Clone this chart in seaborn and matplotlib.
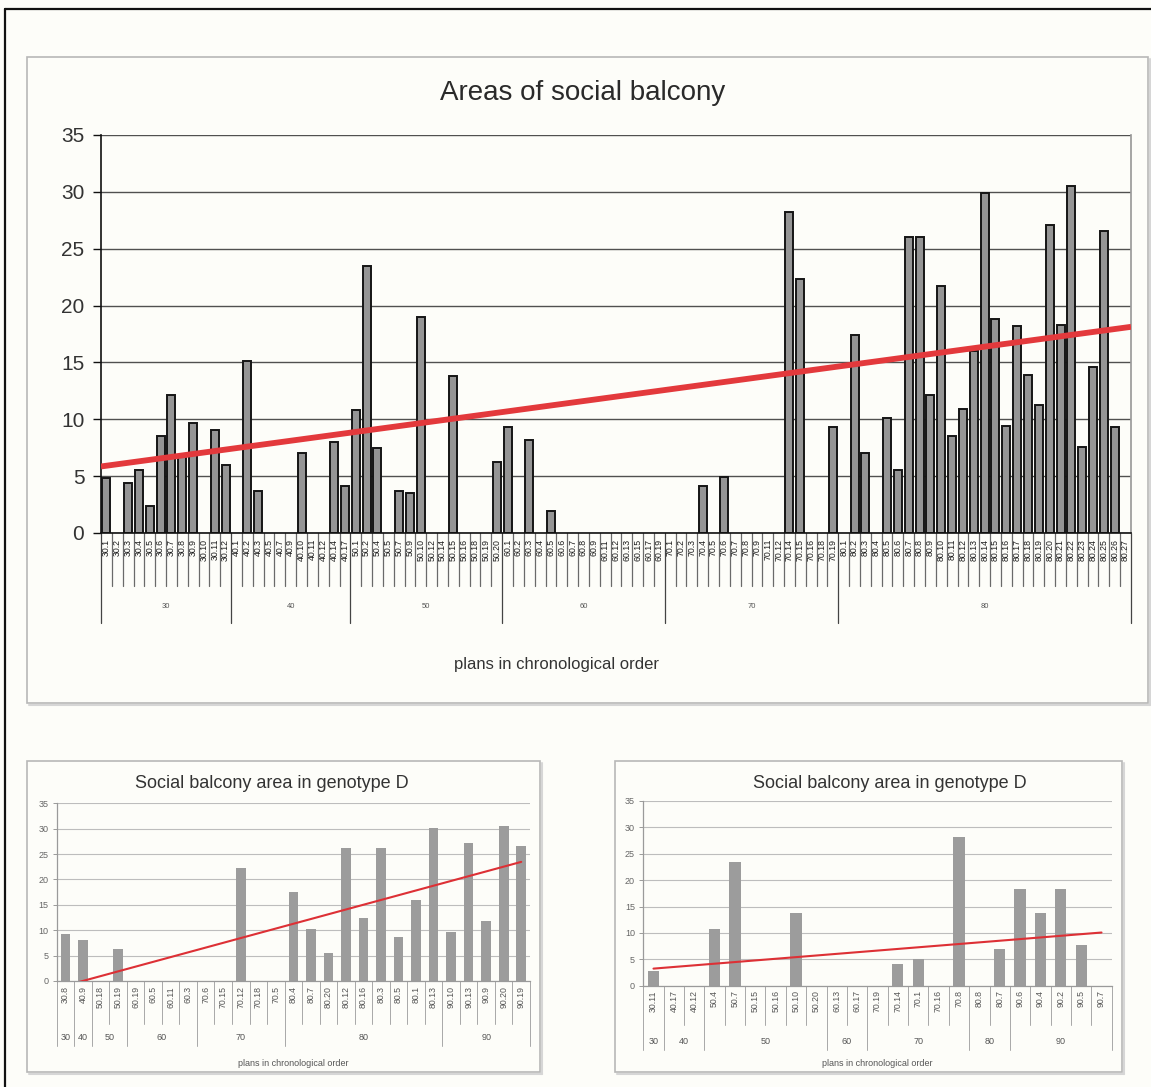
import numpy as np
import pandas as pd
import matplotlib
matplotlib.use("Agg")
import matplotlib.pyplot as plt
import matplotlib.transforms as mtransforms
from matplotlib.patches import Rectangle
from matplotlib.lines import Line2D
import seaborn as sns

W, H, DPI = 1151, 1087, 100
nan = np.nan

# ---------------- all plans (blank cells = no balcony recorded) ----------------
top_g30 = ["30.1", "30.2", "30.3", "30.4", "30.5", "30.6", "30.7", "30.8", "30.9", "30.10", "30.11", "30.12"]
top_g40 = ["40.1", "40.2", "40.3", "40.5", "40.7", "40.9", "40.10", "40.11", "40.12", "40.14", "40.17"]
top_g50 = ["50.1", "50.2", "50.4", "50.5", "50.7", "50.9", "50.10", "50.12", "50.14", "50.15", "50.16",
           "50.18", "50.19", "50.20"]
top_g60 = ["60.1", "60.2", "60.3", "60.4", "60.5", "60.6", "60.7", "60.8", "60.9", "60.11", "60.12",
           "60.13", "60.15", "60.17", "60.19"]
top_g70 = ["70.1", "70.2", "70.3", "70.4", "70.5", "70.6", "70.7", "70.8", "70.9", "70.11", "70.12",
           "70.14", "70.15", "70.16", "70.18", "70.19"]
top_g80 = ["80.1", "80.2", "80.3", "80.4", "80.5", "80.6", "80.7", "80.8", "80.9", "80.10", "80.11",
           "80.12", "80.13", "80.14", "80.15", "80.16", "80.17", "80.18", "80.19", "80.20", "80.21",
           "80.22", "80.23", "80.24", "80.25", "80.26", "80.27"]
top_groups = ["30", "40", "50", "60", "70", "80"]
top_area = [
    4.8, nan, 4.4, 5.5, 2.4, 8.5, 12.1, 6.9, 9.7, nan, 9.1, 6.0,
    nan, 15.1, 3.7, nan, nan, nan, 7.0, nan, nan, 8.0, 4.1,
    10.8, 23.5, 7.5, nan, 3.7, 3.5, 19.0, nan, nan, 13.8, nan, nan, nan, 6.2,
    9.3, nan, 8.2, nan, 1.9, nan, nan, nan, nan, nan, nan, nan, nan, nan, nan,
    nan, nan, nan, 4.1, nan, 4.9, nan, nan, nan, nan, nan, 28.2, 22.3, nan, nan, 9.3,
    nan, 17.4, 7.0, nan, 10.1, 5.5, 26.0, 26.0, 12.1, 21.7, 8.5, 10.9, 16.0, 29.9,
    18.8, 9.4, 18.2, 13.9, 11.3, 27.1, 18.3, 30.5, 7.6, 14.6, 26.6, 9.3, nan,
]

# ---------------- genotype D, first selection ----------------
left_plans = ["30.8", "40.9", "50.18", "50.19", "60.19", "60.5", "60.11", "60.3", "70.6", "70.15",
              "70.12", "70.18", "70.5", "80.4", "80.7", "80.20", "80.12", "80.16", "80.3", "80.5",
              "80.1", "80.13", "90.10", "90.13", "90.9", "90.20", "90.19"]
left_area = [9.2, 8.1, 0, 6.4, 0, 0, 0, 0, 0, 0, 22.3, 0, 0, 17.5, 10.2, 5.6, 26.1, 12.4, 26.1,
             8.7, 16.0, 30.1, 9.6, 27.1, 11.8, 30.6, 26.5]
left_groups = ["30", "40", "50", "60", "70", "80", "90"]
left_group_sizes = [1, 1, 2, 4, 5, 9, 5]

# ---------------- genotype D, second selection ----------------
right_plans = ["30.11", "40.17", "40.12", "50.4", "50.7", "50.15", "50.16", "50.10", "50.20", "60.13",
               "60.17", "70.19", "70.14", "70.1", "70.16", "70.8", "80.8", "80.7", "90.6", "90.4",
               "90.2", "90.5", "90.7"]
right_area = [2.7, 0, 0, 10.7, 23.4, 0, 0, 13.8, 0, 0, 0, 0, 4.2, 5.1, 0, 28.2, 0, 6.9, 18.3,
              13.7, 18.4, 7.7, 0]
right_groups = ["30", "40", "50", "60", "70", "80", "90"]
right_group_sizes = [1, 2, 6, 2, 5, 2, 5]

# ---------------- styling ----------------
sns.set_theme(style="white")
plt.rcParams["font.family"] = ["Liberation Sans", "DejaVu Sans"]
BG = "#fdfdf9"

fig = plt.figure(figsize=(W / DPI, H / DPI), dpi=DPI, facecolor=BG)


def fy(py):
    return 1 - py / H


def add_axes_px(left, top, right, bottom):
    ax = fig.add_axes([left / W, fy(bottom), (right - left) / W, (bottom - top) / H])
    ax.set_facecolor("none")
    return ax


def frame_px(left, top, right, bottom, color="#b8b8b8", lw=1.2):
    fig.patches.append(Rectangle((left / W, fy(bottom)), (right - left) / W, (bottom - top) / H,
                                 transform=fig.transFigure, fill=False, edgecolor=color, lw=lw))
    # soft drop shadow on the lower and right sides
    fig.add_artist(Line2D([(left + 2) / W, (right + 2) / W], [fy(bottom + 2)] * 2,
                          transform=fig.transFigure, color="#d6d6d6", lw=1.5))
    fig.add_artist(Line2D([(right + 2) / W] * 2, [fy(top + 2), fy(bottom + 2)],
                          transform=fig.transFigure, color="#d6d6d6", lw=1.5))


def category_table(ax, labels, groups, sizes, axis_px, label_top_px, tick_px, group_px,
                   group_label_px, fs_label, fs_group, line_color, group_color, lw,
                   label_color, group_label_color):
    trans = mtransforms.blended_transform_factory(ax.transData, fig.transFigure)
    n = len(labels)
    for i, lab in enumerate(labels):
        ax.text(i, fy(label_top_px), lab, rotation=90, ha="center", va="top",
                fontsize=fs_label, color=label_color, transform=trans, clip_on=False)
    edges = set(np.cumsum([0] + list(sizes)).tolist())
    for k in range(n + 1):
        is_group = k in edges
        ax.add_line(Line2D([k - 0.5, k - 0.5], [fy(axis_px), fy(group_px if is_group else tick_px)],
                           transform=trans, color=group_color if is_group else line_color,
                           lw=lw, clip_on=False))
    starts = np.cumsum([0] + list(sizes))[:-1]
    for g, s, st in zip(groups, sizes, starts):
        ax.text(st + s / 2 - 0.5, fy(group_label_px), g, ha="center", va="center",
                fontsize=fs_group, color=group_label_color, transform=trans, clip_on=False)


def bar_panel(ax, plans, area, bar_kw):
    df = pd.DataFrame({"plan": plans, "area": area})
    sns.barplot(data=df, x="plan", y="area", order=plans, errorbar=None, saturation=1,
                ax=ax, **bar_kw)
    ax.set_xlim(-0.5, len(plans) - 0.5)
    ax.set_ylim(0, 35)
    ax.set_yticks(np.arange(0, 36, 5))
    ax.set_xticks([])
    ax.set_xlabel("")
    ax.set_ylabel("")
    return df


# outer border of the page (top and left edges)
fig.add_artist(Line2D([5 / W, 1.0], [fy(9)] * 2, transform=fig.transFigure, color="#111111", lw=1.6))
fig.add_artist(Line2D([5 / W] * 2, [fy(9), 0.0], transform=fig.transFigure, color="#111111", lw=1.6))

# ================= main chart =================
frame_px(27, 57, 1148, 703)
top_plans = top_g30 + top_g40 + top_g50 + top_g60 + top_g70 + top_g80
top_sizes = [len(top_g30), len(top_g40), len(top_g50), len(top_g60), len(top_g70), len(top_g80)]
ax = add_axes_px(101, 135, 1131, 533)
bar_panel(ax, top_plans, top_area,
          dict(color="#959595", edgecolor="#151515", linewidth=1.4, width=0.74))
ax.yaxis.grid(True, color="#505050", lw=1.0)
ax.set_axisbelow(True)
ax.spines["top"].set_visible(False)
ax.spines["left"].set_color("#111111")
ax.spines["left"].set_linewidth(1.2)
ax.spines["bottom"].set_color("#111111")
ax.spines["bottom"].set_linewidth(1.2)
ax.spines["right"].set_color("#9a9a9a")
ax.tick_params(axis="y", which="major", direction="out", length=6, width=1.0, color="#111111",
               labelsize=15, labelcolor="#333333", pad=6, left=True)

# linear trend over the recorded (non-blank) plans
x = np.arange(len(top_area))
y = np.array(top_area, dtype=float)
m = ~np.isnan(y)
k1, k0 = np.polyfit(x[m], y[m], 1)
xs = np.array([-0.5, len(top_area) - 0.5])
ax.plot(xs, k0 + k1 * xs, color="#e3393c", lw=4.2, solid_capstyle="butt", zorder=5)

category_table(ax, top_plans, top_groups, top_sizes, axis_px=533, label_top_px=539, tick_px=586,
               group_px=623, group_label_px=606, fs_label=6.3, fs_group=5.5,
               line_color="#6a6a6a", group_color="#444444", lw=0.9,
               label_color="#1a1a1a", group_label_color="#555555")
fig.text(583 / W, fy(93), "Areas of social balcony", ha="center", va="center",
         fontsize=20, color="#2a2a2a")
fig.text(557 / W, fy(664), "plans in chronological order", ha="center", va="center",
         fontsize=12, color="#333333")


# ================= genotype D panels =================
def small_panel(box, plot_box, plans, area, groups, sizes, title_xy, geom):
    frame_px(*box)
    axs = add_axes_px(*plot_box)
    bar_panel(axs, plans, area, dict(color="#9c9c9c", edgecolor="none", linewidth=0, width=0.55))
    axs.yaxis.grid(True, color="#bdbdbd", lw=0.8)
    axs.set_axisbelow(True)
    for s in ("top", "right"):
        axs.spines[s].set_visible(False)
    for s in ("left", "bottom"):
        axs.spines[s].set_color("#9a9a9a")
        axs.spines[s].set_linewidth(0.9)
    axs.tick_params(axis="y", direction="out", length=3, width=0.7, color="#9a9a9a",
                    labelsize=6.5, labelcolor="#666666", pad=3, left=True)
    xv = np.arange(len(area))
    c1, c0 = np.polyfit(xv, np.array(area, dtype=float), 1)
    xe = np.array([0, len(area) - 1])
    axs.plot(xe, c0 + c1 * xe, color="#dd3035", lw=1.5, zorder=5)
    category_table(axs, plans, groups, sizes, axis_px=geom["axis"], label_top_px=geom["label"],
                   tick_px=geom["tick"], group_px=geom["group"], group_label_px=geom["glabel"],
                   fs_label=6.3, fs_group=6.5, line_color="#a8a8a8", group_color="#a8a8a8", lw=0.7,
                   label_color="#555555", group_label_color="#555555")
    fig.text(title_xy[0] / W, fy(title_xy[1]), "Social balcony area in genotype D",
             ha="center", va="center", fontsize=13, color="#333333")
    fig.text((plot_box[0] + plot_box[2]) / 2 / W, fy(geom["xtitle"]), "plans in chronological order",
             ha="center", va="center", fontsize=6.5, color="#555555")


small_panel((27, 761, 540, 1072), (56.7, 803.3, 530, 981), left_plans, left_area,
            left_groups, left_group_sizes, (272, 783),
            dict(axis=981, label=986, tick=1024, group=1046, glabel=1037, xtitle=1063))
small_panel((615, 761, 1122, 1072), (643.3, 801, 1111.7, 985.7), right_plans, right_area,
            right_groups, right_group_sizes, (890, 783),
            dict(axis=985.7, label=990, tick=1025, group=1050, glabel=1042, xtitle=1063))

fig.savefig("out.png", dpi=DPI, facecolor=BG)
